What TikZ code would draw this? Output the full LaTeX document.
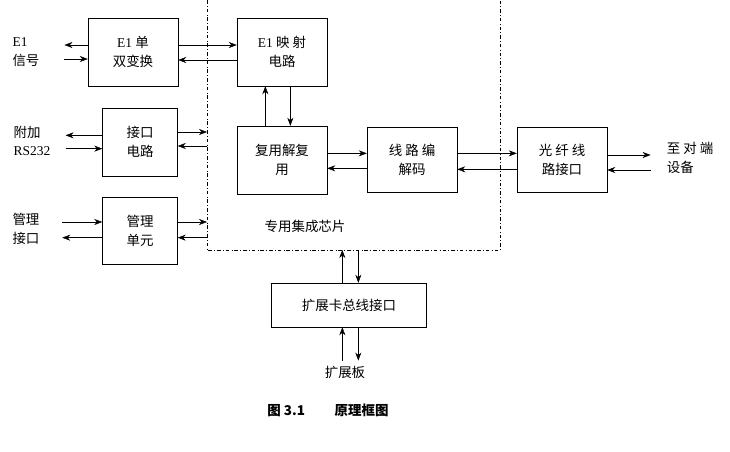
\documentclass[tikz,border=0pt]{standalone}
\usepackage{fontspec}
\setmainfont{Liberation Serif}
\newfontfamily\cjk{Noto Sans CJK SC}
\usetikzlibrary{positioning,arrows.meta}
\begin{document}
\begin{tikzpicture}[x=0.03cm,y=-0.03cm,>={Stealth[length=2.4mm,width=1.8mm]},
  every node/.style={font=\cjk\fontsize{11.5}{16}\selectfont, align=center},
  blk/.style={draw, minimum width=2.7cm, minimum height=2.04cm},
  sblk/.style={draw, minimum width=2.25cm, minimum height=2.04cm},
  lbl/.style={align=left, inner sep=0pt}]
  \useasboundingbox (0,0) rectangle (730,452);
  % Blocks
  \node[blk] (sd) at (133,52) {\rmfamily E1 \cjk 单\\双变换};
  \node[blk] (map) at (282,52) {\rmfamily E1 \cjk 映 射\\电路};
  \node[sblk] (ifc) at (140,142) {接口\\电路};
  \node[blk] (mux) at (282,160) {复用解复\\用};
  \node[blk, minimum height=1.95cm] (code) at (412,160) {线 路 编\\解码};
  \node[blk, minimum height=1.95cm] (fib) at (562,160) {光 纤 线\\路接口};
  \node[sblk, minimum height=2cm] (mgr) at (140,231) {管理\\单元};
  \node[draw, minimum width=4.65cm, minimum height=1.32cm] (bus) at (349,305) {扩展卡总线接口};

  % Texts
  \node[lbl] (e1) at (26,52) {\rmfamily E1\\信号};
  \node[lbl] (rs) at (32,141) {附加\\\rmfamily RS232};
  \node[lbl] (mp) at (26,229) {管理\\接口};
  \node[lbl] (peer) at (690,158) {至 对 端\\设备};
  \node (chip) at (305,226) {专用集成芯片};
  \node (ext) at (345,372) {扩展板};
  \node[font=\cjk\bfseries\fontsize{11.5}{12}\selectfont] (cap) at (328,410) {图 3.1\hspace{2.2em}原理框图};

  % Chip boundary
  \coordinate (cl) at (207,0);
  \coordinate (cb) at (207,250);
  \coordinate (cr) at (500,250);
  \draw[dash dot] (cl) -- (cb) -- (cr) -- (500,0);

  % Edges
  \draw[->] ([yshift=0.21cm]sd.west) -- ++(-0.7cm,0);
  \draw[->] ([yshift=-0.21cm]sd.west) ++(-0.7cm,0) -- ([yshift=-0.21cm]sd.west);
  \draw[->] ([yshift=0.21cm]sd.east) -- ([yshift=0.21cm]map.west);
  \draw[<-] ([yshift=-0.24cm]sd.east) -- ([yshift=-0.24cm]map.west);
  \draw[->] ([yshift=0.2cm]ifc.west) -- ++(-1.1cm,0);
  \draw[->] ([yshift=-0.2cm]ifc.west) ++(-1.1cm,0) -- ([yshift=-0.2cm]ifc.west);
  \draw[->] ([yshift=0.3cm]ifc.east) -- ([yshift=0.3cm]ifc.east -| cl);
  \draw[<-] ([yshift=-0.12cm]ifc.east) -- ([yshift=-0.12cm]ifc.east -| cl);
  \draw[->] ([yshift=0.27cm]mgr.west) ++(-1.2cm,0) -- ([yshift=0.27cm]mgr.west);
  \draw[->] ([yshift=-0.2cm]mgr.west) -- ++(-1.2cm,0);
  \draw[->] ([yshift=0.27cm]mgr.east) -- ([yshift=0.27cm]mgr.east -| cl);
  \draw[<-] ([yshift=-0.2cm]mgr.east) -- ([yshift=-0.2cm]mgr.east -| cl);
  \draw[->] ([xshift=-0.5cm]mux.north) -- ([xshift=-0.5cm]map.south);
  \draw[<-] ([xshift=0.25cm]mux.north) -- ([xshift=0.25cm]map.south);
  \draw[->] ([yshift=0.2cm]mux.east) -- ([yshift=0.2cm]code.west);
  \draw[<-] ([yshift=-0.25cm]mux.east) -- ([yshift=-0.25cm]code.west);
  \draw[->] ([yshift=0.2cm]code.east) -- ([yshift=0.2cm]fib.west);
  \draw[<-] ([yshift=-0.28cm]code.east) -- ([yshift=-0.28cm]fib.west);
  \draw[->] ([yshift=0.15cm]fib.east) -- ++(1.3cm,0);
  \draw[->] ([yshift=-0.3cm]fib.east) ++(1.3cm,0) -- ([yshift=-0.3cm]fib.east);
  \draw[->] ([xshift=-0.2cm]bus.north) -- ([xshift=-0.2cm]bus.north |- cb);
  \draw[<-] ([xshift=0.28cm]bus.north) -- ([xshift=0.28cm]bus.north |- cb);
  \draw[->] ([xshift=-0.2cm]bus.south) ++(0,-1cm) -- ([xshift=-0.2cm]bus.south);
  \draw[->] ([xshift=0.28cm]bus.south) -- ++(0,-1cm);
\end{tikzpicture}
\end{document}
